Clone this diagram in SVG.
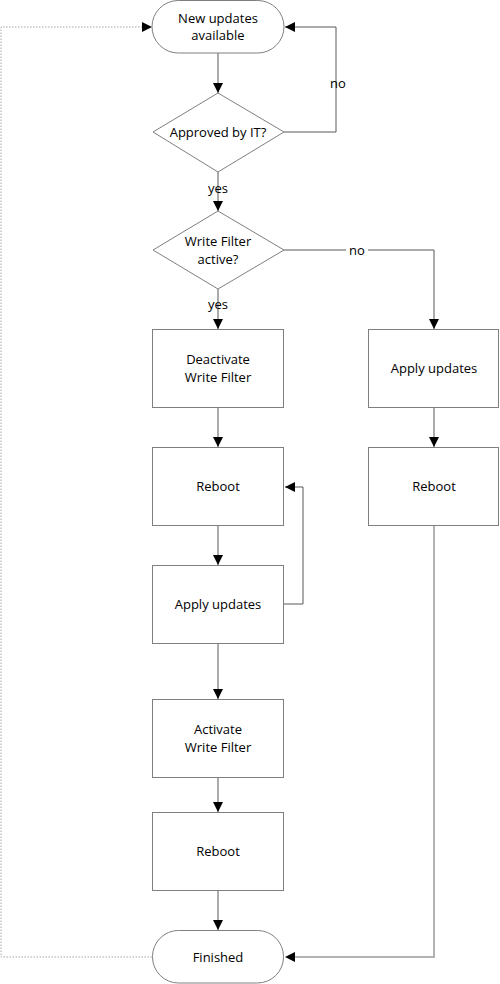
<svg xmlns="http://www.w3.org/2000/svg" width="500" height="984" viewBox="0 0 500 984">
<defs>
<marker id="arr" viewBox="0 0 10 10" refX="10" refY="5" markerWidth="10" markerHeight="10" markerUnits="userSpaceOnUse" orient="auto">
<path d="M0,0 L10,5 L0,10 Z" fill="#000"/>
</marker>
</defs>
<style>
.shape{fill:#fff;stroke:#7f7f7f;stroke-width:1}
.t{font-family:"Open Sans","Liberation Sans",sans-serif;font-size:13px;fill:#000;text-anchor:middle;dominant-baseline:central}
.c{fill:none;stroke:#595959;stroke-width:1}
.cl{fill:none;stroke:#b3b3b3;stroke-width:2}
.cd{fill:none;stroke:#a6a6a6;stroke-width:1;stroke-dasharray:1.5 1.5}
</style>
<rect width="500" height="984" fill="#fff"/>
<g id="connectors">
<line class="c" x1="218" y1="53" x2="218" y2="93" marker-end="url(#arr)"/>
<polyline class="c" points="284,132 336,132 336,27 285,27" marker-end="url(#arr)"/>
<line class="c" x1="218" y1="172" x2="218" y2="211" marker-end="url(#arr)"/>
<polyline class="c" points="284,250 434,250 434,329" marker-end="url(#arr)"/>
<line class="c" x1="218" y1="289" x2="218" y2="329" marker-end="url(#arr)"/>
<line class="c" x1="218" y1="408" x2="218" y2="447" marker-end="url(#arr)"/>
<line class="c" x1="218" y1="526" x2="218" y2="565" marker-end="url(#arr)"/>
<polyline class="c" points="284,604 303,604 303,487 285,487" marker-end="url(#arr)"/>
<line class="c" x1="218" y1="644" x2="218" y2="699" marker-end="url(#arr)"/>
<line class="c" x1="218" y1="778" x2="218" y2="812" marker-end="url(#arr)"/>
<line class="c" x1="218" y1="891" x2="218" y2="930" marker-end="url(#arr)"/>
<line class="c" x1="434" y1="408" x2="434" y2="447" marker-end="url(#arr)"/>
<polyline class="cl" points="434,526 434,957 295,957"/>
<path d="M295,952 L285,957 L295,962 Z" fill="#000"/>
<polyline class="cd" points="152,957 1,957 1,27 142,27"/>
<path d="M142,22 L152,27 L142,32 Z" fill="#000"/>
<rect x="346" y="242" width="22" height="16" fill="#fff"/>
<text class="t" x="357" y="250">no</text>
<text class="t" x="338" y="83">no</text>
<text class="t" x="218" y="188">yes</text>
<text class="t" x="218" y="304">yes</text>
</g>
<g id="start">
<rect class="shape" x="152" y="0.5" width="132" height="52.5" rx="26.25" ry="26.25"/>
<text class="t" x="218" y="18">New updates</text>
<text class="t" x="218" y="35">available</text>
</g>
<g id="approved">
<polygon class="shape" points="218,93 284,132 218,172 153,132"/>
<text class="t" x="218" y="132">Approved by IT?</text>
</g>
<g id="wfactive">
<polygon class="shape" points="218,211 284,250 218,289 153,250"/>
<text class="t" x="218" y="241">Write Filter</text>
<text class="t" x="218" y="259">active?</text>
</g>
<g id="deactivate">
<rect class="shape" x="152.5" y="329.5" width="131" height="78"/>
<text class="t" x="218" y="359">Deactivate</text>
<text class="t" x="218" y="377">Write Filter</text>
</g>
<g id="reboot1">
<rect class="shape" x="152.5" y="447.5" width="131" height="78"/>
<text class="t" x="218" y="486">Reboot</text>
</g>
<g id="apply1">
<rect class="shape" x="152.5" y="565.5" width="131" height="78"/>
<text class="t" x="218" y="604">Apply updates</text>
</g>
<g id="activate">
<rect class="shape" x="152.5" y="699.5" width="131" height="78"/>
<text class="t" x="218" y="729">Activate</text>
<text class="t" x="218" y="747">Write Filter</text>
</g>
<g id="reboot2">
<rect class="shape" x="152.5" y="812.5" width="131" height="78"/>
<text class="t" x="218" y="851">Reboot</text>
</g>
<g id="finished">
<rect class="shape" x="152.5" y="930.5" width="131" height="52.5" rx="26" ry="26"/>
<text class="t" x="218" y="957">Finished</text>
</g>
<g id="apply2">
<rect class="shape" x="368.5" y="329.5" width="130" height="78"/>
<text class="t" x="434" y="368">Apply updates</text>
</g>
<g id="reboot3">
<rect class="shape" x="368.5" y="447.5" width="130" height="78"/>
<text class="t" x="434" y="486">Reboot</text>
</g>
</svg>
